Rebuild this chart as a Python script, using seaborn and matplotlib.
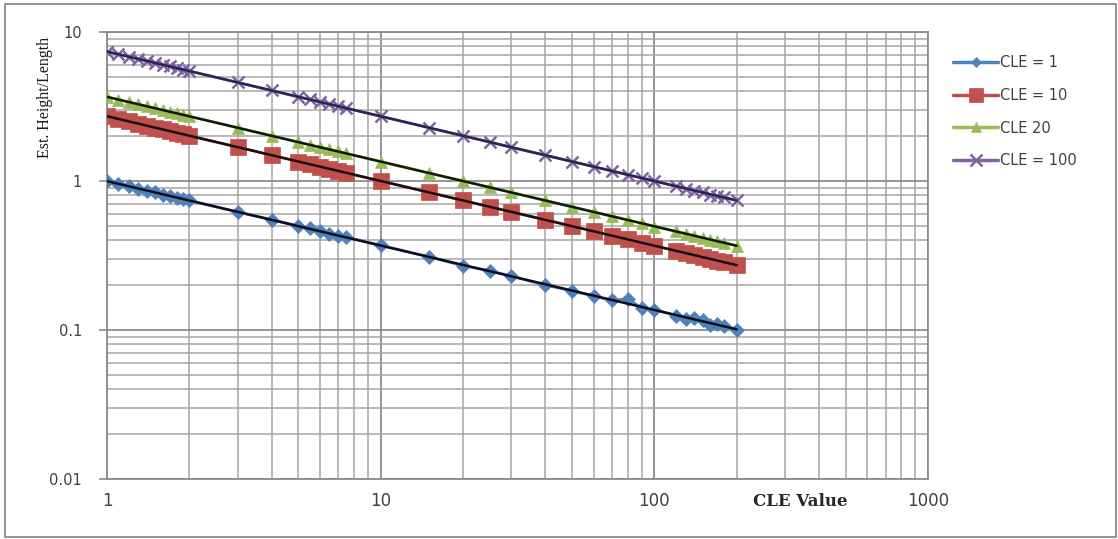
import numpy as np
import pandas as pd
import matplotlib
matplotlib.use("Agg")
import matplotlib.pyplot as plt
from matplotlib.ticker import LogLocator, FixedLocator, FixedFormatter, NullFormatter
from matplotlib.lines import Line2D
from matplotlib.patches import Rectangle
import seaborn as sns

# ---- data ----
cle_x = [1.0, 1.1, 1.2, 1.3, 1.4, 1.5, 1.6, 1.7, 1.8, 1.9, 2.0, 3, 4, 5, 5.5, 6, 6.5, 7, 7.5,
         10, 15, 20, 25, 30, 40, 50, 60, 70, 80, 90, 100, 120, 130, 140, 150, 160, 170, 180, 200]

cle1 = [1.00, 0.96, 0.92, 0.89, 0.86, 0.84, 0.81, 0.79, 0.77, 0.76, 0.74, 0.62, 0.55, 0.50, 0.48,
        0.46, 0.44, 0.43, 0.42, 0.37, 0.31, 0.27, 0.25, 0.23, 0.20, 0.183, 0.169, 0.158, 0.162, 0.140,
        0.137, 0.125, 0.119, 0.120, 0.116, 0.108, 0.109, 0.106, 0.100]
cle10 = [2.72, 2.61, 2.51, 2.42, 2.35, 2.28, 2.22, 2.16, 2.11, 2.06, 2.01, 1.69, 1.49, 1.35, 1.30,
         1.25, 1.21, 1.17, 1.13, 1.00, 0.84, 0.74, 0.67, 0.62, 0.55, 0.50, 0.46, 0.43, 0.405, 0.386,
         0.368, 0.340, 0.329, 0.318, 0.307, 0.299, 0.292, 0.285, 0.272]
cle20 = [3.67, 3.52, 3.39, 3.27, 3.17, 3.08, 2.99, 2.91, 2.84, 2.78, 2.72, 2.28, 2.01, 1.82, 1.75,
         1.68, 1.63, 1.58, 1.53, 1.35, 1.13, 1.00, 0.91, 0.84, 0.74, 0.67, 0.62, 0.58, 0.547, 0.521,
         0.495, 0.459, 0.444, 0.429, 0.415, 0.404, 0.395, 0.385, 0.367]
cle100 = [7.39, 7.09, 6.83, 6.59, 6.38, 6.20, 6.02, 5.87, 5.73, 5.59, 5.47, 4.59, 4.05, 3.67, 3.53,
          3.39, 3.28, 3.18, 3.08, 2.72, 2.28, 2.01, 1.83, 1.68, 1.49, 1.35, 1.25, 1.17, 1.10, 1.05,
          1.00, 0.92, 0.89, 0.86, 0.84, 0.81, 0.79, 0.78, 0.74]

series_names = ["CLE = 1", "CLE = 10", "CLE 20", "CLE = 100"]
series_values = [cle1, cle10, cle20, cle100]

x_ticks = [1, 10, 100, 1000]
x_tick_labels = ["1", "10", "100", "1000"]
y_ticks = [0.01, 0.1, 1, 10]
y_tick_labels = ["0.01", "0.1", "1", "10"]

# ---- styles ----
colors = ["#4F81BD", "#C0504D", "#9BBB59", "#8064A2"]
markers = ["D", "s", "^", "x"]
msizes = [7, 11, 8, 9]
leg_msizes = [5, 10, 7, 8]
trend_colors = ["#0d0d1a", "#1a0d0d", "#0d1a0d", "#2a2450"]

sns.set_theme(style="white")
plt.rcParams['font.family'] = ['DejaVu Sans']

fig = plt.figure(figsize=(11.18, 5.39), dpi=100)
ax = fig.add_axes([107/1118, 1 - 479/539, (928-107)/1118, (479-32)/539])

rows = []
for name, vals in zip(series_names, series_values):
    for xv, yv in zip(cle_x, vals):
        rows.append({"series": name, "x": xv, "y": yv})
df = pd.DataFrame(rows)

handles = []
for name, c, m, ms, lms, tc in zip(series_names, colors, markers, msizes, leg_msizes, trend_colors):
    sub = df[df["series"] == name]
    mew = 1.8 if m == "x" else 0.5
    sns.lineplot(data=sub, x="x", y="y", ax=ax, color=c, marker=m, markersize=ms,
                 markeredgecolor=c, markeredgewidth=mew, linewidth=2, legend=False,
                 estimator=None, sort=False, zorder=3)
    # power trendline fitted in log space
    lx = np.log10(sub["x"].to_numpy())
    ly = np.log10(sub["y"].to_numpy())
    b, a = np.polyfit(lx, ly, 1)
    xx = np.array([sub["x"].min(), sub["x"].max()])
    ax.plot(xx, 10 ** (a + b * np.log10(xx)), color=tc, linewidth=1.8, zorder=4)
    handles.append(Line2D([0], [0], color=c, marker=m, markersize=lms, markeredgecolor=c,
                          markeredgewidth=mew, linewidth=2.5, label=name))

ax.set_xscale("log")
ax.set_yscale("log")
ax.set_xlim(1, 1000)
ax.set_ylim(0.01, 10)

ax.xaxis.set_major_locator(FixedLocator(x_ticks))
ax.xaxis.set_major_formatter(FixedFormatter(x_tick_labels))
ax.xaxis.set_minor_locator(LogLocator(base=10, subs=np.arange(2, 10)))
ax.xaxis.set_minor_formatter(NullFormatter())
ax.yaxis.set_major_locator(FixedLocator(y_ticks))
ax.yaxis.set_major_formatter(FixedFormatter(y_tick_labels))
ax.yaxis.set_minor_locator(LogLocator(base=10, subs=np.arange(2, 10)))
ax.yaxis.set_minor_formatter(NullFormatter())

ax.grid(True, which="major", color="#8c8c8c", linewidth=1.3)
ax.grid(True, which="minor", color="#a6a6a6", linewidth=1.1)
ax.set_axisbelow(True)
for s in ax.spines.values():
    s.set_color("#8c8c8c")
    s.set_linewidth(1.3)

ax.tick_params(axis="x", which="both", length=0, pad=9, labelsize=12, labelcolor="#404040")
ax.tick_params(axis="y", which="major", length=6, width=1.2, color="#8c8c8c", pad=12,
               labelsize=10.5, labelcolor="#404040", left=True)
ax.tick_params(axis="y", which="minor", length=0)

ax.set_xlabel("CLE Value", family="DejaVu Serif", fontweight="bold", fontsize=12, color="#262626")
ax.xaxis.set_label_coords((800-107)/821, -23/447)
ax.xaxis.label.set_va("center")
ax.set_ylabel("Est. Height/Length", family="Liberation Serif", fontsize=11.5, color="#1a1a1a")
ax.yaxis.set_label_coords((45-107)/821, (479-97)/447)
ax.yaxis.label.set_va("center")

leg = ax.legend(handles=handles, loc="upper left", bbox_to_anchor=(953/1118, 1 - 55/539),
                bbox_transform=fig.transFigure, frameon=False, fontsize=10.5,
                handlelength=3.1, handletextpad=0.1, labelspacing=1.22, borderpad=0,
                borderaxespad=0)
for t in leg.get_texts():
    t.set_color("#404040")

fig.patches.append(Rectangle((5/1118, 1 - 537/539), (1116-5)/1118, (537-4)/539,
                             transform=fig.transFigure, fill=False, edgecolor="#8c8c8c",
                             linewidth=1.3))

fig.savefig("out.png", dpi=100)
